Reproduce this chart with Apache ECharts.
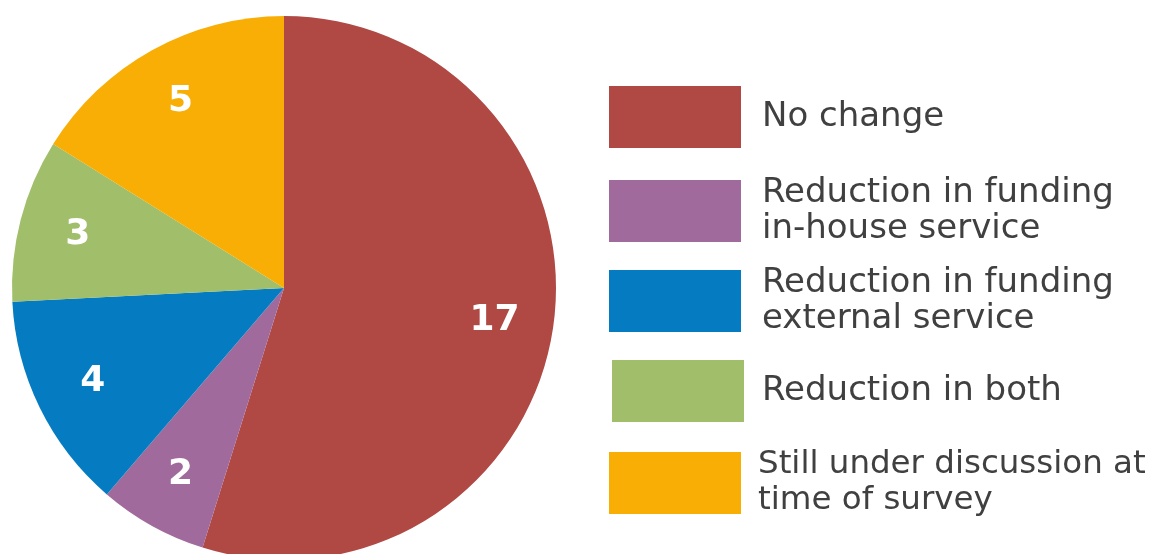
<!DOCTYPE html>
<html>
<head>
    <meta charset="utf-8">
    <title>Funding change</title>
    <script src="https://cdn.jsdelivr.net/npm/echarts@6/dist/echarts.min.js"></script>
</head>
<body style="margin:0">
<div id="main" style="width: 1156px;height:554px;"></div>
<script>
// data
var categories = ['No change', 'Reduction in funding\nin-house service', 'Reduction in funding\nexternal service', 'Reduction in both', 'Still under discussion at\ntime of survey'];
var values = [17, 2, 4, 3, 5];
var colors = ['#B04844', '#A06A9C', '#057CC1', '#A1BE6A', '#F8AE05'];
// two-line rows start a little higher because their text sticks out above the box
var legendTops = [86, 175, 265, 360, 447];

var pieData = categories.map(function (c, i) {
    return {name: c, value: values[i], itemStyle: {color: colors[i]}};
});

// one legend per row so each row sits where it does in the picture
var legends = categories.map(function (c, i) {
    return {
        orient: 'vertical',
        left: i === 3 ? 612 : 609,
        top: legendTops[i],
        padding: 0,
        data: [c],
        icon: 'rect',
        itemWidth: 132,
        itemHeight: 62,
        selectedMode: false,
        textStyle: {
            fontFamily: 'DejaVu Sans',
            fontSize: i === 4 ? 32.5 : 34,
            lineHeight: 36,
            color: '#404040',
            padding: [0, 0, 0, i === 4 ? 12 : i === 3 ? 13 : 16]
        }
    };
});

var option = {
    animation: false,
    legend: legends,
    series: [
        {
            name: 'pie',
            type: 'pie',
            center: [284, 288],
            radius: [0, 272],
            startAngle: 90,
            silent: true,
            label: {show: false},
            labelLine: {show: false},
            data: pieData
        },
        {
            // transparent ring only used to put the numbers further out
            name: 'labels',
            type: 'pie',
            center: [284, 288],
            radius: [148, 272],
            startAngle: 90,
            silent: true,
            itemStyle: {color: 'rgba(0,0,0,0)'},
            label: {
                show: true,
                position: 'inside',
                formatter: '{c}',
                color: '#fff',
                fontFamily: 'DejaVu Sans',
                fontWeight: 'bold',
                fontSize: 36
            },
            labelLine: {show: false},
            data: categories.map(function (c, i) {
                return {name: c, value: values[i]};
            })
        }
    ]
};

var myChart = echarts.init(document.getElementById('main'));
myChart.setOption(option);
</script>
</body>
</html>
